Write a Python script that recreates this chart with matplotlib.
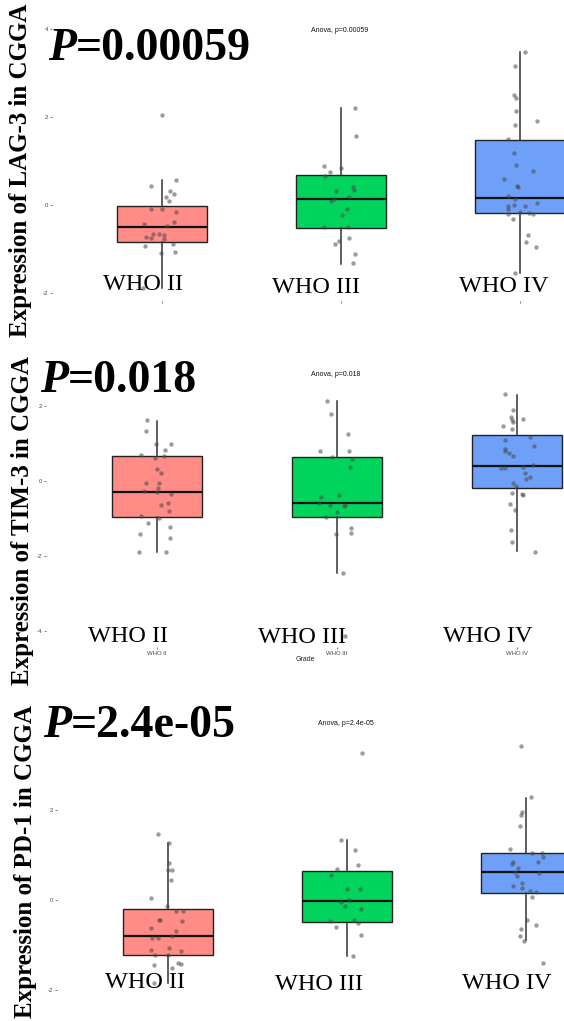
import matplotlib
matplotlib.use('Agg')
from matplotlib import pyplot as plt

plt.rcParams['axes.unicode_minus'] = False

# data
grades = ['WHO II', 'WHO III', 'WHO IV']
genes = ['LAG-3', 'TIM-3', 'PD-1']
p_values = ['0.00059', '0.018', '2.4e-05']
box_colors = ['#FF8C86', '#00D45C', '#6EA0F8']

# box stats per gene: [whislo, q1, med, q3, whishi] per grade
lag3_stats = [[-1.89, -0.83, -0.50, -0.03, 0.56],
              [-1.34, -0.52, 0.14, 0.68, 2.20],
              [-1.55, -0.18, 0.16, 1.48, 3.47]]
tim3_stats = [[-1.90, -0.97, -0.28, 0.67, 1.59],
              [-2.44, -0.97, -0.58, 0.64, 2.12],
              [-1.87, -0.18, 0.40, 1.22, 2.30]]
pd1_stats = [[-1.84, -1.23, -0.79, -0.19, 1.26],
             [-1.24, -0.48, -0.02, 0.64, 1.33],
             [-0.89, 0.15, 0.63, 1.04, 2.27]]

# jittered sample points: values and horizontal jitter
lag3_ii = [2.04, 0.43, 0.56, 0.32, 0.26, 0.19, 0.08, -0.08, -0.10, -0.15, -0.38, -0.44, -0.48,
           -0.66, -0.66, -0.68, -0.73, -0.75, -0.78, -0.94, -0.89, -1.08, -1.06, -1.89]
lag3_ii_j = [0, -0.06, 0.077, 0.046, 0.067, 0.02, 0.04, -0.06, 0, 0.077, 0.067, -0.10, 0.03,
             -0.05, -0.014, 0.01, -0.09, -0.06, 0.01, -0.095, 0.062, -0.004, 0.073, -0.105]
lag3_iii = [2.20, 1.57, 0.89, 0.85, 0.74, 0.66, 0.40, 0.34, 0.32, 0.09, 0.14, 0.19, -0.10,
            -0.23, -0.51, -0.51, -0.75, -0.81, -0.89, -1.12, -1.32]
lag3_iii_j = [0.08, 0.085, -0.097, 0, -0.06, -0.087, 0.065, 0.075, -0.03, -0.056, -0.04, 0.044,
              0.034, 0.008, -0.097, 0.038, 0.044, -0.012, -0.032, 0.08, 0.069]
lag3_iv = [3.47, 3.17, 2.51, 2.44, 2.13, 1.90, 1.81, 1.49, 1.19, 0.91, 0.78, 0.60, 0.43, 0.42,
           0.20, 0.13, -0.02, 0.00, -0.02, 0.04, -0.10, -0.17, -0.19, -0.21, -0.21, -0.32,
           -0.69, -0.85, -0.96, -1.55]
lag3_iv_j = [0.03, -0.026, -0.036, -0.02, -0.02, 0.095, -0.03, -0.067, -0.036, -0.02, 0.07,
             -0.09, -0.016, -0.01, -0.067, -0.03, -0.067, -0.035, 0.026, 0.095, -0.067, 0,
             0.05, 0.07, -0.067, -0.04, 0.046, 0.034, 0.09, -0.026]

tim3_ii = [1.61, 1.34, 0.98, 0.98, 0.82, 0.70, 0.61, 0.67, 0.31, 0.21, -0.04, -0.05, -0.18,
           -0.27, -0.29, -0.35, -0.58, -0.63, -0.80, -0.93, -0.98, -1.12, -1.22, -1.40, -1.51,
           -1.90, -1.90]
tim3_ii_j = [-0.058, -0.06, -0.008, 0.076, 0.042, -0.088, -0.01, 0.04, 0, 0.02, -0.062, 0.012,
             0.006, -0.074, 0, 0.08, 0.062, 0.02, 0.066, -0.088, 0.01, -0.05, 0.072, -0.094,
             0.07, -0.098, 0.05]
tim3_iii = [2.13, 1.77, 1.25, 0.80, 0.80, 0.64, 0.58, 0.36, -0.38, -0.43, -0.58, -0.63, -0.67,
            -0.63, -0.83, -0.97, -1.42, -1.24, -1.38, -2.45, -4.11]
tim3_iii_j = [-0.058, -0.034, 0.062, -0.094, 0.066, -0.028, 0.086, 0.072, 0.01, -0.09, -0.098,
              -0.038, 0.04, 0.046, 0, -0.06, -0.008, 0.08, 0.08, 0.036, 0.046]
tim3_iv = [2.32, 1.88, 1.70, 1.63, 1.65, 1.57, 1.47, 1.37, 1.17, 1.10, 0.92, 0.86, 0.79, 0.75,
           0.67, 0.35, 0.35, 0.37, 0.42, 0.20, 0.11, 0.06, -0.05, -0.12, -0.31, -0.34, -0.36,
           -0.60, -0.76, -1.29, -1.61, -1.89]
tim3_iv_j = [-0.064, -0.02, -0.034, -0.028, 0.032, -0.024, -0.078, -0.028, 0.07, -0.064, 0.096,
             -0.068, -0.064, -0.044, -0.024, -0.088, -0.064, 0.036, 0.09, 0.046, 0.072, 0.05,
             -0.024, -0.004, -0.028, 0.026, 0.032, -0.038, -0.01, -0.034, -0.028, 0.1]

pd1_ii = [1.46, 1.26, 0.83, 0.66, 0.66, 0.44, 0.05, -0.13, -0.24, -0.24, -0.44, -0.44, -0.47,
          -0.63, -0.68, -0.80, -0.84, -0.84, -1.10, -1.06, -1.13, -1.22, -1.22, -1.44, -1.50,
          -1.41, -1.43, -1.84]
pd1_ii_j = [-0.056, 0.006, 0.004, 0.024, 0, 0.014, -0.096, -0.006, 0.044, 0.084, -0.05, -0.046,
            0.08, -0.096, 0.044, 0.02, -0.09, -0.058, -0.094, 0.006, 0.074, -0.074, 0, -0.08,
            0.02, 0.054, 0.07, -0.08]
pd1_iii = [3.27, 1.34, 1.11, 0.77, 0.69, 0.55, 0.24, 0.24, -0.04, -0.13, 0.00, -0.19, -0.47,
           -0.44, -0.50, -0.61, -0.77, -1.24]
pd1_iii_j = [0.086, -0.034, 0.044, 0.064, -0.056, -0.09, 0, 0.07, -0.036, -0.01, 0.01, 0.08,
             -0.096, 0.04, 0.064, -0.06, 0.08, 0.036]
pd1_iv = [3.43, 2.28, 1.96, 1.90, 1.65, 1.13, 1.04, 1.04, 0.85, 0.79, 0.84, 0.95, 0.72, 0.63,
          0.54, 0.61, 0.37, 0.31, 0.26, 0.21, 0.17, 0.07, -0.44, -0.56, -0.65, -0.81, -0.90,
          -1.39]
pd1_iv_j = [-0.026, 0.03, -0.022, -0.03, -0.036, -0.092, 0.034, 0.09, -0.07, -0.08, 0.068,
            0.094, -0.042, -0.06, -0.052, 0.074, -0.02, -0.072, -0.022, 0.024, 0.054, 0.034,
            0.004, 0.054, -0.026, -0.032, -0.01, 0.094]

all_stats = [lag3_stats, tim3_stats, pd1_stats]
all_points = [[(lag3_ii, lag3_ii_j), (lag3_iii, lag3_iii_j), (lag3_iv, lag3_iv_j)],
              [(tim3_ii, tim3_ii_j), (tim3_iii, tim3_iii_j), (tim3_iv, tim3_iv_j)],
              [(pd1_ii, pd1_ii_j), (pd1_iii, pd1_iii_j), (pd1_iv, pd1_iv_j)]]
yticks = [[-2, 0, 2, 4], [-4, -2, 0, 2], [-2, 0, 2]]

# layout of the stitched panels, in pixels of the 564x1021 image
W, H = 564, 1021
# left, top, bottom, first category x, category spacing, y of zero, px per unit
layout = [(52, 5, 301, 162, 179, 205, 44.0),
          (46, 345, 647, 157, 180, 481, 37.6),
          (57, 690, 1021, 168, 179, 900, 45.0)]
anova_xy = [(340, 30), (336, 375), (346, 723)]
big_p_xy = [(48, 60), (40, 392), (43, 737)]
ylab_xy = [(21, 170), (23, 521), (26, 862)]
who_xy = [[(143, 290), (316, 293), (504, 292)],
          [(128, 642), (302, 643), (488, 642)],
          [(145, 988), (319, 990), (507, 989)]]

fig = plt.figure(figsize=(W / 100, H / 100), dpi=100)


def fx(x):
    return x / W


def fy(y):
    return 1 - y / H


serif = 'Liberation Serif'
sans = 'Liberation Sans'

for i in range(3):
    left, top, bottom, c1, sp, y0, ppu = layout[i]
    ax = fig.add_axes([fx(left), fy(bottom), (W - left) / W, (bottom - top) / H])
    ax.set_xlim(1 + (left - c1) / sp, 1 + (W - c1) / sp)
    ax.set_ylim((y0 - bottom) / ppu, (y0 - top) / ppu)
    ax.patch.set_alpha(0)
    for s in ax.spines.values():
        s.set_visible(False)

    bstats = []
    for k in range(3):
        lo, q1, med, q3, hi = all_stats[i][k]
        bstats.append(dict(whislo=lo, q1=q1, med=med, q3=q3, whishi=hi, fliers=[]))
    bp = ax.bxp(bstats, positions=[1, 2, 3], widths=0.5, patch_artist=True,
                showfliers=False, showcaps=False,
                boxprops=dict(edgecolor='#222222', linewidth=1.0),
                whiskerprops=dict(color='#333333', linewidth=1.1),
                medianprops=dict(color='#111111', linewidth=1.6))
    for patch, c in zip(bp['boxes'], box_colors):
        patch.set_facecolor(c)

    for k in range(3):
        vals, jit = all_points[i][k]
        ax.scatter([k + 1 + j for j in jit], vals, s=10, color='#4a4a4a', alpha=0.55,
                   linewidths=0, zorder=5)

    ax.set_yticks(yticks[i])
    ax.set_yticklabels([str(t) for t in yticks[i]])
    ax.set_xticks([1, 2, 3])
    if i == 1:
        ax.set_xticklabels(grades)
        ax.set_xlabel('Grade', fontsize=5, family=sans, color='#222222', labelpad=0.5)
    else:
        ax.set_xticklabels([])
    ax.tick_params(axis='both', labelsize=4.3, length=1.6, width=0.5, color='#444444',
                   labelcolor='#444444', pad=1)
    for lab in ax.get_xticklabels() + ax.get_yticklabels():
        lab.set_family(sans)

    # ggpubr anova label
    fig.text(fx(anova_xy[i][0]), fy(anova_xy[i][1]), 'Anova, p=' + p_values[i],
             fontsize=5, family=sans, ha='center', va='center', color='#111111')

    # overlaid large annotations
    tp = fig.text(fx(big_p_xy[i][0]), fy(big_p_xy[i][1]), 'P', fontsize=33, family=serif,
                  weight='bold', style='italic', ha='left', va='baseline')
    fig.canvas.draw()
    ax.annotate('=' + p_values[i], xy=(1, 0), xycoords=tp, fontsize=33, family=serif,
                weight='bold', ha='left', va='bottom', annotation_clip=False)
    fig.text(fx(ylab_xy[i][0]), fy(ylab_xy[i][1]), 'Expression of ' + genes[i] + ' in CGGA',
             fontsize=18, family=serif, weight='bold', rotation=90, ha='center', va='center')
    for k in range(3):
        fig.text(fx(who_xy[i][k][0]), fy(who_xy[i][k][1]), grades[k], fontsize=17.5,
                 family=serif, ha='center', va='baseline')

fig.savefig('out.png', dpi=100)
